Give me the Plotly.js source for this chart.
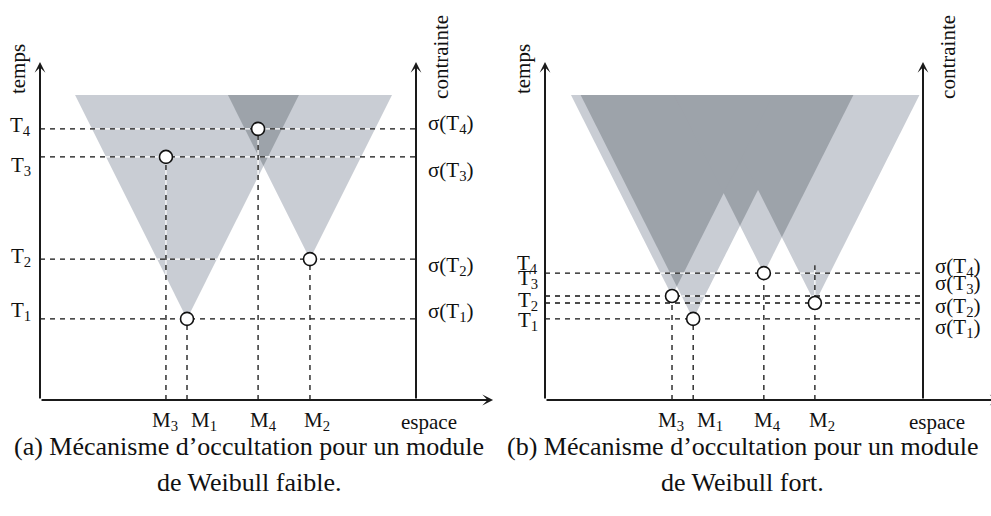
<!DOCTYPE html>
<html><head><meta charset="utf-8">
<script src="https://cdn.plot.ly/plotly-3.0.1.min.js"></script>
<style>html,body{margin:0;padding:0;background:#fff}#chart{width:991px;height:516px}</style>
</head><body><div id="chart"></div>
<script>
// ---------- data ----------
const moduleNames  = ['M<sub>1</sub>', 'M<sub>2</sub>', 'M<sub>3</sub>', 'M<sub>4</sub>'];
const timeNames    = ['T<sub>1</sub>', 'T<sub>2</sub>', 'T<sub>3</sub>', 'T<sub>4</sub>'];
const stressNames  = ['σ(T<sub>1</sub>)', 'σ(T<sub>2</sub>)', 'σ(T<sub>3</sub>)', 'σ(T<sub>4</sub>)'];
// (a) low Weibull modulus : position (space) and failure time of M1..M4
const spaceA = [3.91, 7.18, 3.35, 5.80];
const timeA  = [2.66, 4.62, 7.97, 8.89];
// (b) high Weibull modulus
const spaceB = [3.92, 7.14, 3.36, 5.79];
const timeB  = [2.66, 3.18, 3.41, 4.16];
// in (b) the guide of M2 is drawn slightly above its point (up to this time)
const guideTopB = [null, 4.42, null, null];
const zoneSlope = 0.4056;   // growth of the shielded zone (space per unit time)
const zoneTop   = 10;       // time where the zones are cut
const spaceEnd  = 10;       // stress axis position

// ---------- styling / layout helpers ----------
const LIGHT = '#c9cdd4', DARK = '#9da3aa';
const FONT = 'Liberation Serif, Times New Roman, serif';

function activeZones(xs, ts) {
  const order = xs.map((_, i) => i).sort((a, b) => ts[a] - ts[b]);
  const act = [];
  order.forEach(i => {
    if (!act.some(j => Math.abs(xs[i] - xs[j]) <= zoneSlope * (ts[i] - ts[j]))) act.push(i);
  });
  return act;
}

function mergeIntervals(iv) {
  iv.sort((a, b) => a[0] - b[0]);
  const out = [];
  iv.forEach(v => {
    if (out.length && v[0] <= out[out.length - 1][1]) out[out.length - 1][1] = Math.max(out[out.length - 1][1], v[1]);
    else out.push([v[0], v[1]]);
  });
  return out;
}

function panelTraces(xs, ts, guideTop, xa, ya) {
  const tr = [];
  const s = zoneSlope, top = zoneTop;
  const zones = activeZones(xs, ts);
  const gTop = xs.map((_, i) => (guideTop && guideTop[i] != null) ? guideTop[i] : ts[i]);
  // light zones
  zones.forEach(i => {
    const h = s * (top - ts[i]);
    tr.push({x: [xs[i] - h, xs[i], xs[i] + h, xs[i] - h], y: [top, ts[i], top, top],
      xaxis: xa, yaxis: ya, mode: 'lines', fill: 'toself', fillcolor: LIGHT,
      line: {width: 0, color: LIGHT}, hoverinfo: 'skip', showlegend: false});
  });
  // overlaps (dark)
  for (let p = 0; p < zones.length; p++) for (let q = p + 1; q < zones.length; q++) {
    let a = zones[p], b = zones[q];
    if (xs[a] > xs[b]) [a, b] = [b, a];
    const tStar = (xs[b] - xs[a] + s * (ts[a] + ts[b])) / (2 * s);
    const uStar = xs[a] + s * (tStar - ts[a]);
    const L = xs[b] - s * (top - ts[b]), R = xs[a] + s * (top - ts[a]);
    if (tStar < top && L < R) {
      tr.push({x: [L, uStar, R, L], y: [top, tStar, top, top], xaxis: xa, yaxis: ya,
        mode: 'lines', fill: 'toself', fillcolor: DARK, line: {width: 0, color: DARK},
        hoverinfo: 'skip', showlegend: false});
    }
  }
  // white guide lines inside the shielded zones
  const wx = [], wy = [];
  ts.forEach(t => {
    const iv = zones.filter(j => ts[j] < t).map(j => [xs[j] - s * (t - ts[j]), xs[j] + s * (t - ts[j])]);
    mergeIntervals(iv).forEach(v => {
      wx.push(Math.max(0, v[0]), Math.min(spaceEnd, v[1]), null); wy.push(t, t, null);
    });
  });
  xs.forEach((x, i) => {
    let low = gTop[i];
    zones.forEach(j => { if (ts[j] <= gTop[i]) low = Math.min(low, ts[j] + Math.abs(x - xs[j]) / s); });
    if (low < gTop[i]) { wx.push(x, x, null); wy.push(low, gTop[i], null); }
  });
  tr.push({x: wx, y: wy, xaxis: xa, yaxis: ya, mode: 'lines', line: {color: '#ffffff', width: 1.2},
    hoverinfo: 'skip', showlegend: false});
  // dashed guides
  const dx = [], dy = [];
  ts.forEach(t => { dx.push(0, spaceEnd, null); dy.push(t, t, null); });
  xs.forEach((x, i) => { dx.push(x, x, null); dy.push(0, gTop[i], null); });
  tr.push({x: dx, y: dy, xaxis: xa, yaxis: ya, mode: 'lines',
    line: {color: '#111', width: 1.3, dash: '5px,5px'}, hoverinfo: 'skip', showlegend: false});
  // failure points
  tr.push({x: xs, y: ts, xaxis: xa, yaxis: ya, mode: 'markers',
    marker: {size: 13, color: '#fff', line: {color: '#111', width: 1.6}},
    hoverinfo: 'skip', showlegend: false});
  return tr;
}

function arrow(xr, yr, x, y, ax, ay) {
  return {xref: xr, yref: yr, axref: xr, ayref: yr, x: x, y: y, ax: ax, ay: ay, text: '',
    showarrow: true, arrowhead: 3, arrowsize: 0.9, arrowwidth: 2, arrowcolor: '#1a1a1a',
    standoff: 0, startstandoff: 0};
}
function txt(xr, yr, x, y, text, opt) {
  return Object.assign({xref: xr, yref: yr, x: x, y: y, text: text, showarrow: false,
    xanchor: 'center', yanchor: 'middle',
    font: {family: FONT, size: 21, color: '#111'}}, opt || {});
}

// label offsets (pixels) to avoid overlapping labels, as in the figure
const mShiftA = [17, 7, -1, 5], mShiftB = [17, 7, -1, 4];
const tShiftA = [8, 2, -9, 3],  tShiftB = [-2, 2, 17, 9];
const sShiftA = [7, -7, -14, 5], sShiftB = [-9, -4, 12, 6];

function panelAnnotations(xr, yr, xs, ts, mShift, tShift, sShift, tLabelDx, sLabelDx, spaceDx) {
  const an = [];
  an.push(arrow(xr, yr, 0, 11.08, 0, 0));
  an.push(arrow(xr, yr, spaceEnd, 11.08, spaceEnd, 0));
  an.push(arrow(xr, yr, 12.05, 0, 0, 0));
  xs.forEach((x, i) => an.push(txt(xr, yr, x, 0, moduleNames[i], {yanchor: 'top', yshift: -6, xshift: mShift[i]})));
  ts.forEach((t, i) => {
    an.push(txt(xr, yr, 0, t, timeNames[i], {xanchor: 'right', xshift: tLabelDx, yshift: tShift[i]}));
    an.push(txt(xr, yr, spaceEnd, t, stressNames[i], {xanchor: 'left', xshift: sLabelDx, yshift: sShift[i]}));
  });
  an.push(txt(xr, yr, spaceEnd, 0, 'espace', {yanchor: 'top', yshift: -8, xshift: spaceDx}));
  an.push(txt(xr, yr, 0, 10.85, 'temps', {textangle: -90, xshift: -22}));
  an.push(txt(xr, yr, spaceEnd, 11.25, 'contrainte', {textangle: -90, xshift: 25}));
  return an;
}

const capFont = {family: FONT, size: 26, color: '#111'};
const traces = [].concat(panelTraces(spaceA, timeA, null, 'x', 'y'), panelTraces(spaceB, timeB, guideTopB, 'x2', 'y2'));
const annotations = [].concat(
  panelAnnotations('x', 'y', spaceA, timeA, mShiftA, tShiftA, sShiftA, -7, 10, 13),
  panelAnnotations('x2', 'y2', spaceB, timeB, mShiftB, tShiftB, sShiftB, -5, 10, 14),
  [
    txt('paper', 'paper', 0.251, 1 - 446 / 516, '(a) Mécanisme d’occultation pour un module', {font: capFont}),
    txt('paper', 'paper', 0.251, 1 - 482 / 516, 'de Weibull faible.', {font: capFont}),
    txt('paper', 'paper', 0.749, 1 - 446 / 516, '(b) Mécanisme d’occultation pour un module', {font: capFont}),
    txt('paper', 'paper', 0.749, 1 - 482 / 516, 'de Weibull fort.', {font: capFont})
  ]);

const hidden = {visible: false, showgrid: false, zeroline: false, fixedrange: true};
const layout = {
  width: 991, height: 516, margin: {l: 0, r: 0, t: 0, b: 0},
  paper_bgcolor: '#fff', plot_bgcolor: 'rgba(0,0,0,0)', showlegend: false,
  xaxis:  Object.assign({domain: [0, 0.5], range: [-1.0638, 12.1144]}, hidden),
  xaxis2: Object.assign({domain: [0.5, 1], range: [-1.3095, 11.799]}, hidden),
  yaxis:  Object.assign({domain: [0, 1], range: [-3.803, 13.115], anchor: 'x'}, hidden),
  yaxis2: Object.assign({domain: [0, 1], range: [-3.803, 13.115], anchor: 'x2'}, hidden),
  annotations: annotations
};
Plotly.newPlot('chart', traces, layout, {staticPlot: true, displayModeBar: false});
</script></body></html>
